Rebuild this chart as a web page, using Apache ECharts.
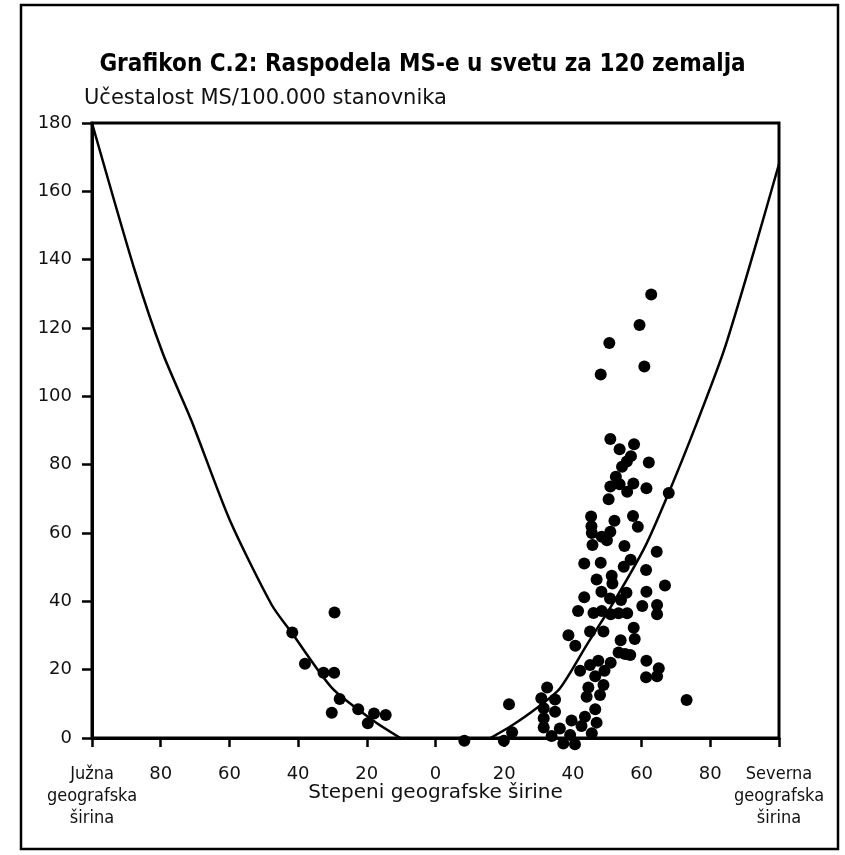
<!DOCTYPE html>
<html>
<head>
<meta charset="utf-8">
<script src="https://cdn.jsdelivr.net/npm/echarts@6/dist/echarts.min.js"></script>
<style>
html,body{margin:0;padding:0;background:#fff;}
#chart{width:845px;height:855px;}
</style>
</head>
<body>
<div id="chart"></div>
<script>
// ---- data (degrees latitude: south negative, north positive; MS per 100.000) ----
const titleText = 'Grafikon C.2: Raspodela MS-e u svetu za 120 zemalja';
const yAxisTitle = 'Učestalost MS/100.000 stanovnika';
const xAxisTitle = 'Stepeni geografske širine';
const southLabel = ['Južna', 'geografska', 'širina'];
const northLabel = ['Severna', 'geografska', 'širina'];

const southCountries = [
  [-41.7,30.9],[-29.4,36.7],[-38.0,21.7],[-32.6,19.1],[-29.5,19.1],[-27.9,11.4],
  [-30.2,7.4],[-22.5,8.4],[-17.9,7.2],[-14.5,6.7],[-19.7,4.3]
];
const northCountries = [
  [8.4,-0.8],[21.4,9.9],[22.3,1.7],[19.9,-0.8],
  [62.8,129.8],[59.4,120.9],[50.6,115.6],[60.8,108.7],[48.1,106.4],
  [50.9,87.5],[57.8,86.0],[53.6,84.5],[56.9,82.5],[62.1,80.6],[55.7,80.9],[54.3,79.4],
  [52.5,76.5],[50.9,73.6],[53.6,74.3],[57.6,74.5],[55.8,72.1],[61.4,73.1],[67.9,71.7],[50.4,69.9],
  [45.3,64.8],[52.1,63.6],[57.5,65.0],[58.9,61.8],[45.4,62.0],[45.5,60.0],[48.4,58.9],[50.9,60.4],
  [49.9,57.9],[45.7,56.5],[55.0,56.2],[64.4,54.5],
  [43.3,51.1],[48.1,51.3],[56.8,52.2],[54.8,50.1],[61.3,49.2],
  [46.9,46.4],[51.3,47.5],[51.5,45.2],[66.8,44.6],
  [43.3,41.2],[48.3,42.8],[55.6,42.5],[61.4,42.8],[50.8,40.8],[54.0,40.4],
  [41.5,37.2],[46.0,36.6],[48.4,37.2],[51.0,36.2],[53.3,36.5],[55.8,36.5],[60.2,38.6],[64.5,38.9],[64.5,36.2],
  [38.7,30.1],[40.7,27.0],[45.0,31.2],[48.9,31.2],[57.7,32.3],[58.0,29.0],[53.9,28.6],
  [53.3,25.0],[55.2,24.6],[56.7,24.3],[61.4,22.6],[65.0,20.4],[61.3,17.8],[64.5,18.1],
  [42.1,19.7],[45.0,21.4],[47.4,22.6],[51.0,22.0],[46.5,18.1],[49.2,19.7],
  [44.5,14.8],[48.9,15.5],[44.0,12.1],[47.9,12.6],
  [32.5,14.8],[30.8,11.6],[34.8,11.3],[73.1,11.1],
  [31.5,8.7],[31.5,5.8],[31.5,3.1],[34.8,7.7],[46.5,8.4],[43.5,6.2],[39.6,5.1],[36.2,2.8],[42.5,3.5],[46.9,4.5],
  [33.8,0.6],[39.2,0.9],[45.5,1.4],[37.2,-1.6],[40.6,-1.8]
];
const southCurve = [
  [-100,180],[-87.6,137],[-79.4,112.6],[-71.1,93],[-59.9,63.8],[-47.7,39],
  [-41.8,30.7],[-30.1,14.6],[-18.4,5.3],[-10.2,0]
];
const northCurve = [
  [16,0],[22,3.5],[29.4,8.7],[36.2,14.5],[44,27.2],[52,40],[61,56],
  [68,72],[76,92],[84,113.5],[92.8,142.8],[100,168]
];

const FONT = 'DejaVu Sans';
const chart = echarts.init(document.getElementById('chart'), null, {renderer:'canvas'});
const edgeLabel = arr => arr.map(s => '{e|' + s + '}').join('\n');

chart.setOption({
  animation: false,
  backgroundColor: '#fff',
  title: {
    text: titleText,
    left: 'center',
    top: 48,
    textStyle: {fontFamily: 'DejaVu Sans Condensed', fontWeight: 'bold', fontSize: 24, color: '#000'}
  },
  grid: {left: 92, right: 66, top: 123, bottom: 117, show: true, borderColor: '#000', borderWidth: 3, backgroundColor: 'transparent'},
  xAxis: {
    type: 'value', min: -100, max: 100, interval: 20,
    name: xAxisTitle, nameLocation: 'middle', nameGap: 45, nameMoveOverlap: false,
    nameTextStyle: {fontFamily: FONT, fontSize: 20, color: '#111', verticalAlign: 'top'},
    axisLine: {show: true, onZero: false, lineStyle: {color: '#000', width: 3}},
    axisTick: {show: true, inside: false, length: 9, lineStyle: {color: '#000', width: 2.5}},
    splitLine: {show: false},
    axisLabel: {
      margin: 25, fontFamily: FONT, fontSize: 18, color: '#111',
      showMinLabel: true, showMaxLabel: true, lineHeight: 22, hideOverlap: false,
      formatter: v => v === -100 ? edgeLabel(southLabel) : (v === 100 ? edgeLabel(northLabel) : String(Math.abs(v))),
      rich: {e: {fontFamily: 'DejaVu Sans Condensed', fontSize: 18, lineHeight: 22, color: '#111'}}
    }
  },
  yAxis: {
    type: 'value', min: 0, max: 180, interval: 20,
    name: yAxisTitle, nameLocation: 'end', nameGap: 14, nameMoveOverlap: false,
    nameTextStyle: {fontFamily: FONT, fontSize: 21, color: '#111', align: 'left', padding: [0, 0, 0, -8]},
    axisLine: {show: true, onZero: false, lineStyle: {color: '#000', width: 3}},
    axisTick: {show: true, inside: false, length: 10, lineStyle: {color: '#000', width: 2.5}},
    splitLine: {show: false},
    axisLabel: {margin: 20, fontFamily: FONT, fontSize: 18, color: '#111'}
  },
  graphic: [{
    type: 'rect', silent: true, z: 100,
    shape: {x: 21, y: 5, width: 817, height: 844},
    style: {fill: null, stroke: '#000', lineWidth: 2.5}
  }],
  series: [
    {type: 'line', data: southCurve, smooth: 0.25, symbol: 'none', clip: false,
     lineStyle: {color: '#000', width: 2.5}},
    {type: 'line', data: northCurve, smooth: 0.25, symbol: 'none', clip: false,
     lineStyle: {color: '#000', width: 2.5}},
    {type: 'scatter', data: southCountries, symbolSize: 12, clip: false, itemStyle: {color: '#000', opacity: 1}},
    {type: 'scatter', data: northCountries, symbolSize: 12, clip: false, itemStyle: {color: '#000', opacity: 1}}
  ]
});
</script>
</body>
</html>
